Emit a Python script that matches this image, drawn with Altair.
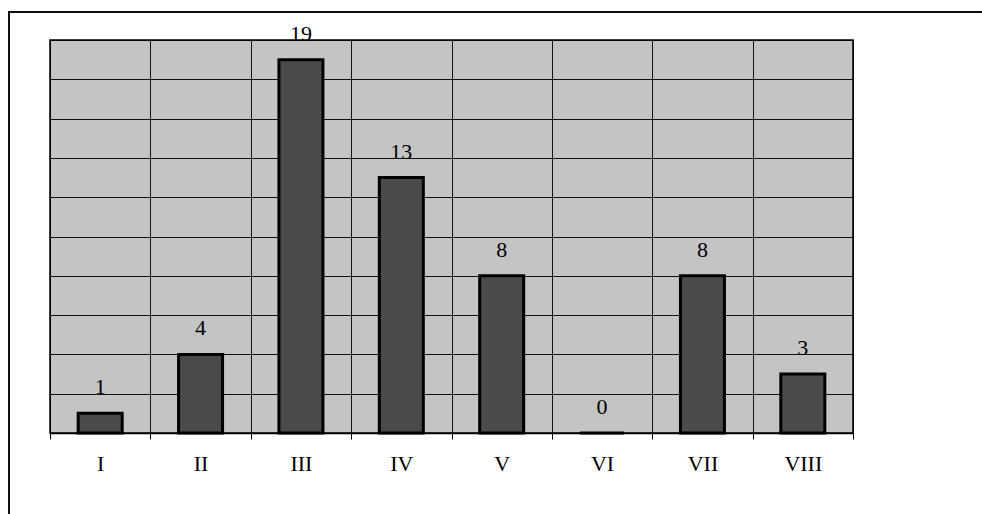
import altair as alt
import pandas as pd

# Category labels (Roman numerals) and counts per category
categories = ["I", "II", "III", "IV", "V", "VI", "VII", "VIII"]
counts = [1, 4, 19, 13, 8, 0, 8, 3]

df = pd.DataFrame({"category": categories, "count": counts})

SERIF = "Liberation Serif"
PLOT_W, PLOT_H = 803, 393

x_enc = alt.X(
    "category:N",
    sort=categories,
    scale=alt.Scale(paddingInner=0, paddingOuter=0),
    axis=alt.Axis(
        title=None,
        labelAngle=0,
        labelFont=SERIF,
        labelFontSize=22,
        labelColor="#000000",
        labelPadding=14,
        tickBand="extent",
        tickSize=6,
        tickColor="#000000",
        domainColor="#000000",
        domainWidth=1.5,
        grid=True,
        gridColor="#000000",
        gridWidth=1,
        gridOpacity=0.9,
    ),
)

y_enc = alt.Y(
    "count:Q",
    scale=alt.Scale(domain=[0, 20], nice=False),
    axis=alt.Axis(
        title=None,
        values=list(range(0, 21, 2)),
        labels=False,
        ticks=False,
        domain=False,
        grid=True,
        gridColor="#000000",
        gridWidth=1,
        gridOpacity=0.9,
    ),
)

bars = alt.Chart(df).mark_bar(
    size=44,
    fill="#4a4a4a",
    stroke="#000000",
    strokeWidth=3,
).encode(x=x_enc, y=y_enc)

# Value labels above each bar; same axis definitions so the merged axes agree
labels = alt.Chart(df).mark_text(
    font=SERIF,
    fontSize=22,
    color="#000000",
    baseline="alphabetic",
    dy=-19,
).encode(x=x_enc, y=y_enc, text="count:Q")

# Outer frame around the figure, running off the right and bottom edges
frame = alt.Chart(df).mark_rect(
    fill=None, stroke="#111111", strokeWidth=1.5
).encode(
    x=alt.value(-41), x2=alt.value(PLOT_W + 300),
    y=alt.value(-28), y2=alt.value(PLOT_H + 300),
)

chart = alt.layer(frame, bars, labels).properties(
    width=PLOT_W,
    height=PLOT_H,
    padding={"left": 50, "top": 40, "right": 129, "bottom": 81},
    autosize=alt.AutoSizeParams(type="none"),
    background="#ffffff",
).configure_view(
    fill="#c4c4c4",
    stroke="#000000",
    strokeWidth=1.5,
)

chart.save("out.html", embed_options={"renderer": "svg", "actions": False})
